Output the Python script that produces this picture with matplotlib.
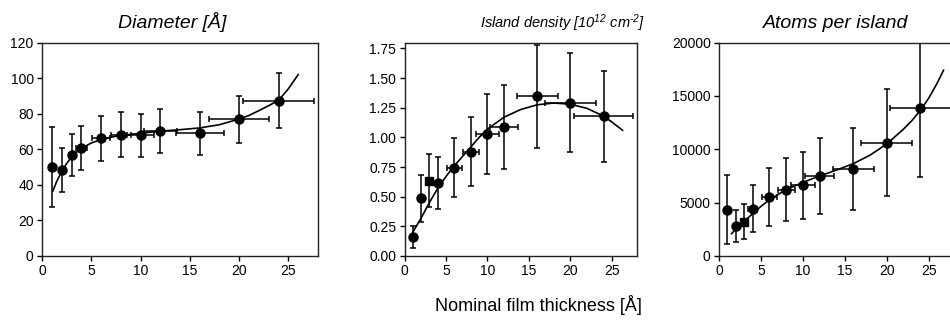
import matplotlib.pyplot as plt

# fonts: Arial-like sans, italic math for the superscripts
plt.rcParams["font.family"] = ["Liberation Sans", "DejaVu Sans"]
plt.rcParams["mathtext.fontset"] = "custom"
plt.rcParams["mathtext.rm"] = "Liberation Sans:italic"
plt.rcParams["mathtext.it"] = "Liberation Sans:italic"
plt.rcParams["mathtext.default"] = "rm"

# --------------------------
# data
# --------------------------
thickness = [1, 2, 3, 4, 6, 8, 10, 12, 16, 20, 24]
thickness_err = [0, 0, 0.3, 0.55, 0.9, 1.0, 1.4, 1.7, 2.45, 3.05, 3.6]

diameter = [50, 48.5, 56.8, 60.6, 66.2, 68.3, 67.8, 70.1, 69.1, 76.9, 87.4]
diameter_err = [22.7, 12.3, 11.8, 12.2, 12.6, 12.5, 12.2, 12.3, 12.1, 13.3, 15.3]
diameter_fit_x = [1.1, 1.5, 2, 2.5, 3, 3.5, 4, 5, 6, 7, 8, 10, 12, 14, 16, 18, 20, 21, 22, 23, 24, 25, 26]
diameter_fit_y = [36.5, 42, 47.5, 52, 55.5, 58.3, 60.5, 63.5, 65.5, 66.8, 67.8, 69, 70.2, 71, 72, 73.8, 77, 79, 81.7, 84.5, 87.5, 94, 102]

density = [0.158, 0.487, 0.636, 0.613, 0.743, 0.880, 1.030, 1.091, 1.345, 1.294, 1.179]
density_err = [0.094, 0.197, 0.227, 0.218, 0.249, 0.289, 0.340, 0.355, 0.436, 0.416, 0.383]
density_fit_x = [1, 2, 3, 4, 5, 6, 7, 8, 9, 10, 11, 12, 14, 16, 18, 20, 22, 24, 25, 26.3]
density_fit_y = [0.20, 0.32, 0.45, 0.57, 0.67, 0.76, 0.84, 0.92, 1.00, 1.07, 1.12, 1.17, 1.235, 1.275, 1.29, 1.28, 1.245, 1.18, 1.13, 1.06]

atoms = [4340, 2830, 3205, 4430, 5560, 6230, 6610, 7520, 8160, 10600, 13910]
atoms_err = [3210, 1490, 1645, 2210, 2710, 2980, 3130, 3570, 3835, 5000, 6520]
atoms_fit_x = [1.5, 2, 3, 4, 5, 6, 7, 8, 10, 12, 14, 16, 18, 20, 22, 23, 24, 25, 26, 26.75]
atoms_fit_y = [2100, 2500, 3250, 3950, 4650, 5250, 5750, 6200, 6900, 7500, 8050, 8650, 9450, 10500, 11900, 12700, 13650, 14800, 16200, 17400]

# point 3 is drawn as a square in the density and atoms panels
markers_round = ["o"] * 11
markers_square3 = ["o", "o", "s", "o", "o", "o", "o", "o", "o", "o", "o"]

# --------------------------
# drawing
# --------------------------
fig = plt.figure(figsize=(9.5, 3.21), dpi=100)

panels = [
    # axes rect, y values, y errors, fit x, fit y, y limit, y ticks, tick format, markers
    ([0.0442, 0.2025, 0.2905, 0.665], diameter, diameter_err, diameter_fit_x, diameter_fit_y,
     (0, 120), [0, 20, 40, 60, 80, 100, 120], "{:.0f}", markers_round),
    ([0.4258, 0.2025, 0.2444, 0.665], density, density_err, density_fit_x, density_fit_y,
     (0, 1.80), [0, 0.25, 0.5, 0.75, 1.0, 1.25, 1.5, 1.75], "{:.2f}", markers_square3),
    ([0.7568, 0.2025, 0.2474, 0.665], atoms, atoms_err, atoms_fit_x, atoms_fit_y,
     (0, 20000), [0, 5000, 10000, 15000, 20000], "{:.0f}", markers_square3),
]

for rect, yv, ye, fx, fy, ylim, yticks, fmt, marks in panels:
    ax = fig.add_axes(rect)
    ax.errorbar(thickness, yv, yerr=ye, xerr=thickness_err, fmt="none",
                ecolor="black", elinewidth=1.1, capsize=2.5, capthick=1.1)
    ax.plot(fx, fy, color="black", lw=1.2)
    for xi, yi, m in zip(thickness, yv, marks):
        ax.plot(xi, yi, marker=m, color="black", ms=6.5 if m == "o" else 6, ls="none")
    ax.set_xlim(0, 28)
    ax.set_ylim(*ylim)
    ax.set_xticks([0, 5, 10, 15, 20, 25])
    ax.set_yticks(yticks)
    ax.set_yticklabels([fmt.format(t) for t in yticks])
    ax.tick_params(direction="out", length=3.5, width=1, labelsize=10, pad=2.5)
    for sp in ax.spines.values():
        sp.set_linewidth(1)
        sp.set_color("#222222")

# panel titles and shared x label
fig.text(0.1816, 0.914, "Diameter [Å]", ha="center", va="baseline", fontsize=14, style="italic")
fig.text(0.5926, 0.914, "Island density [10$^{12}$ cm$^{\u2010 2}$]", ha="center", va="baseline",
         fontsize=10.5, style="italic")
fig.text(0.880, 0.914, "Atoms per island", ha="center", va="baseline", fontsize=14, style="italic")
fig.text(0.5668, 0.031, "Nominal film thickness [Å]", ha="center", va="baseline", fontsize=13)

plt.savefig("out.png", dpi=100)
